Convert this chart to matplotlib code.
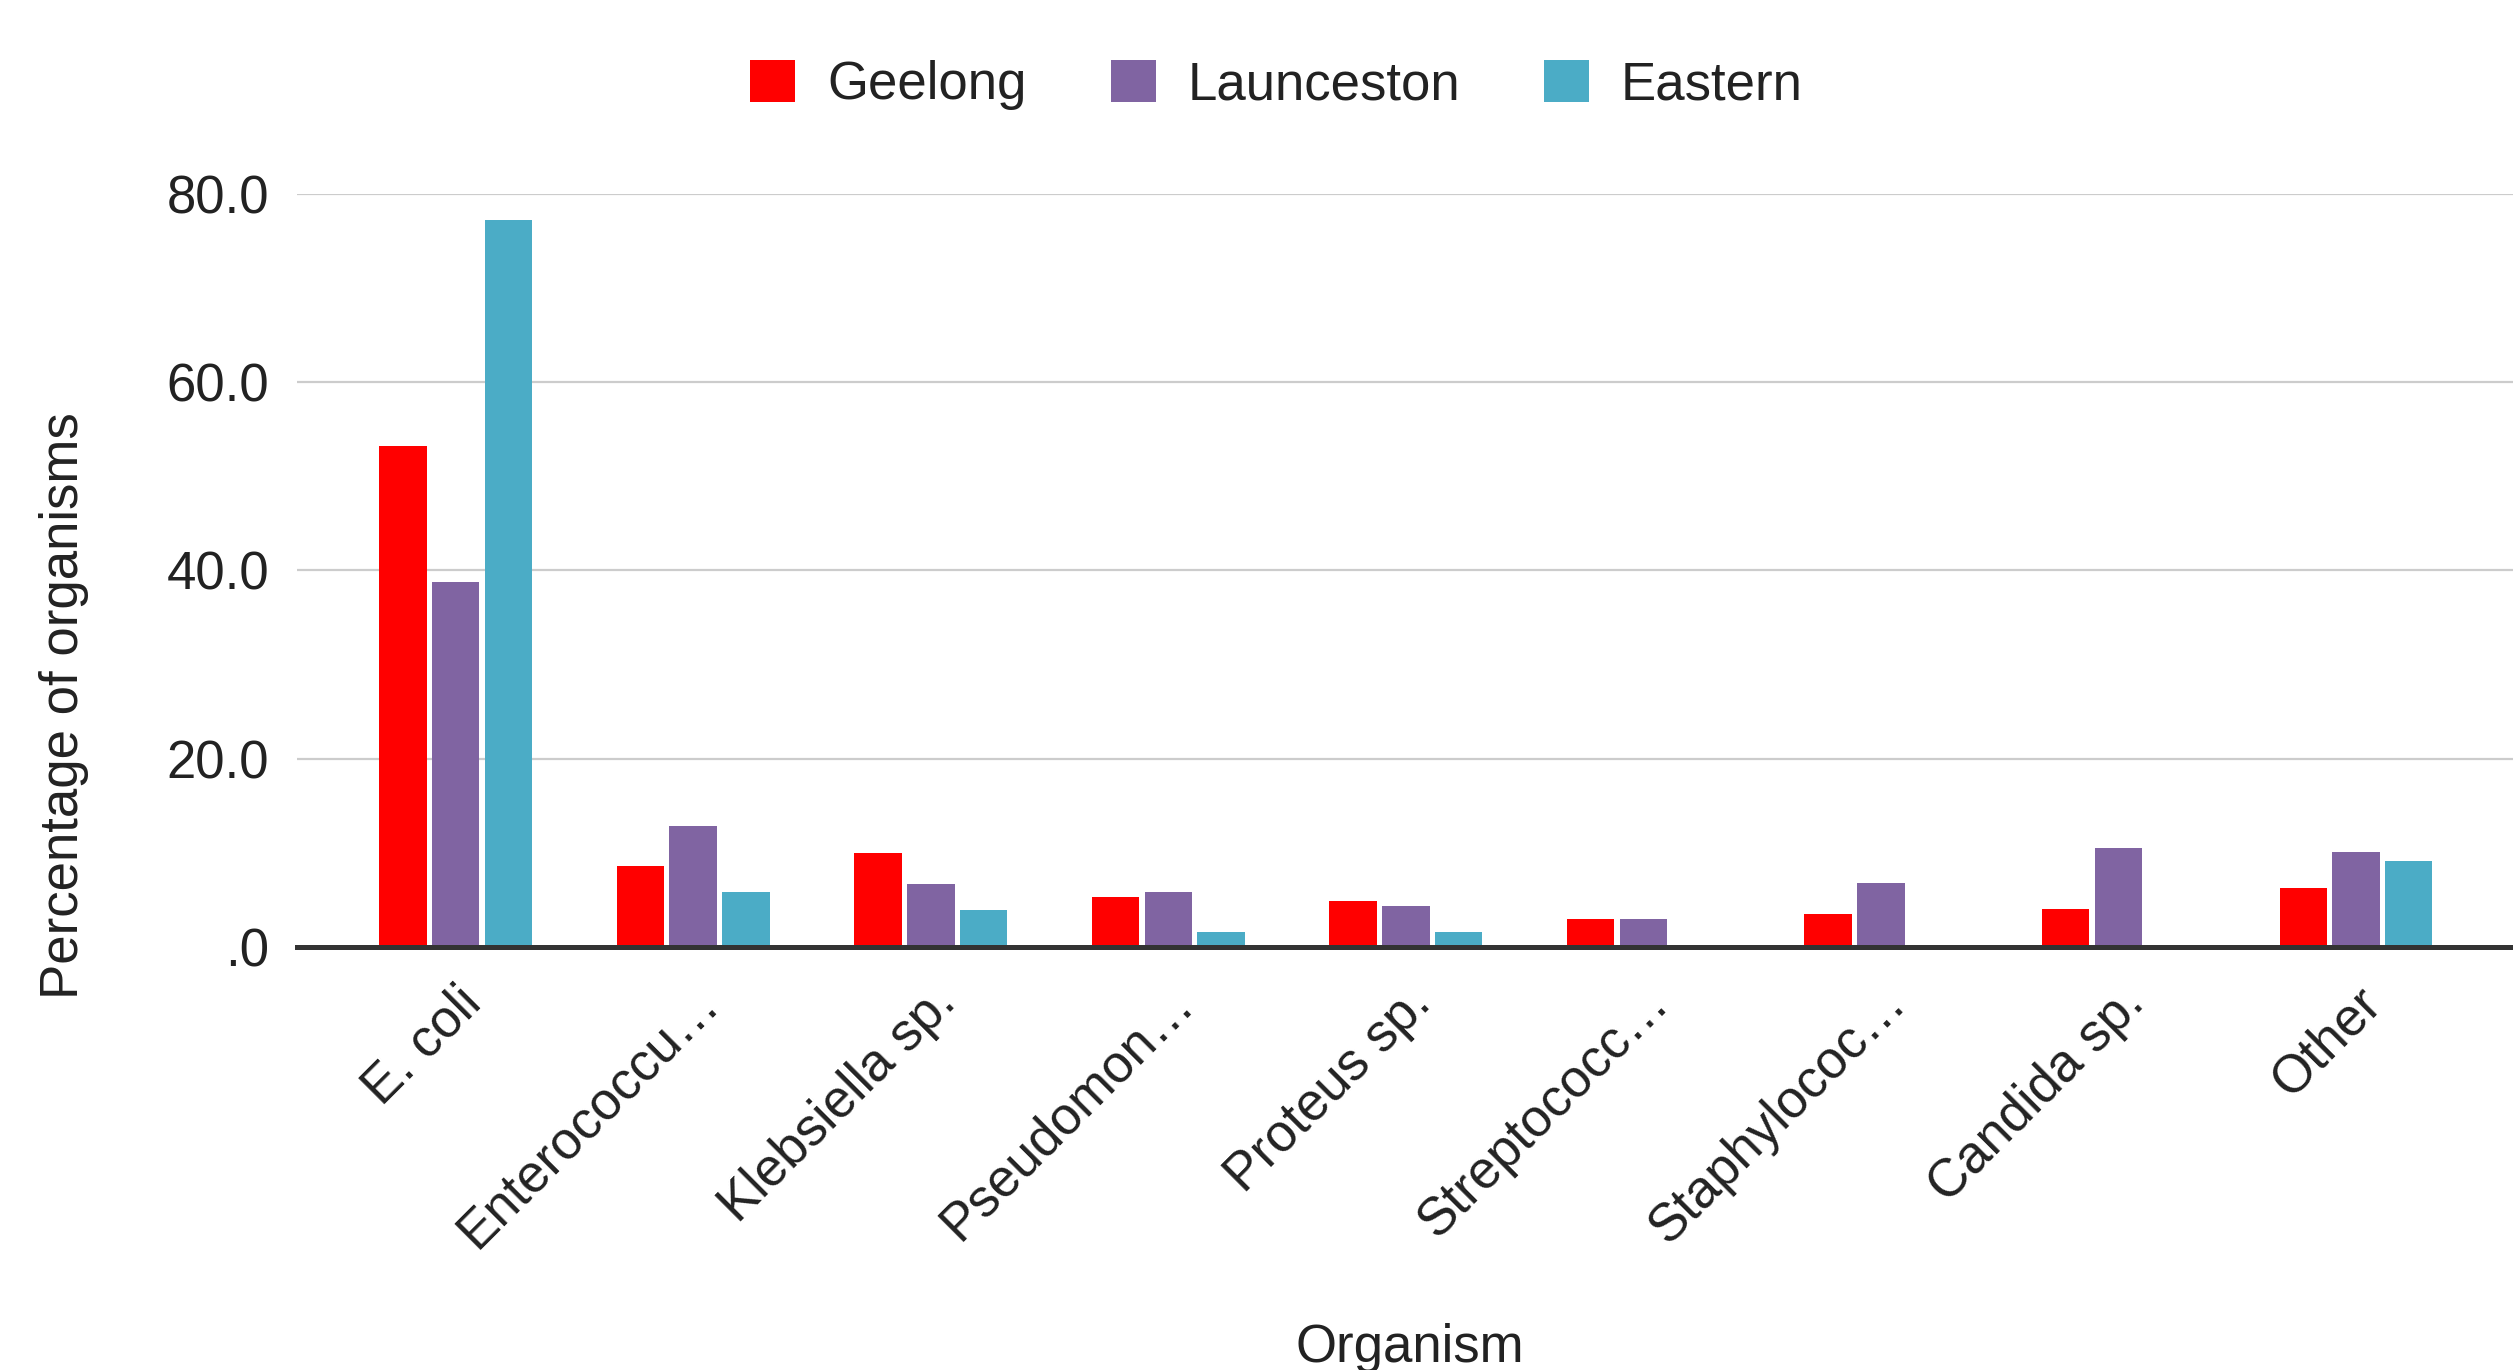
import numpy as np
import matplotlib.pyplot as plt
from matplotlib.ticker import FixedLocator, FuncFormatter
from matplotlib.patches import Patch

organisms = ["E. coli", "Enterococcu\u2026", "Klebsiella sp.", "Pseudomon\u2026",
             "Proteus sp.", "Streptococc\u2026", "Staphylococ\u2026", "Candida sp.", "Other"]
geelong = [53.2, 8.6, 10.0, 5.3, 4.9, 3.0, 3.5, 4.0, 6.3]
launceston = [38.8, 12.9, 6.7, 5.8, 4.4, 3.0, 6.8, 10.5, 10.1]
eastern = [77.2, 5.8, 3.9, 1.6, 1.6, 0.0, 0.0, 0.0, 9.1]
series = ["Geelong", "Launceston", "Eastern"]
colors = ["#ff0000", "#8064a2", "#4bacc6"]
yticks = [0, 20, 40, 60, 80]

plt.rcParams['font.family'] = ['Liberation Sans', 'DejaVu Sans']
text_color = "#222222"

fig = plt.figure(figsize=(12.565, 6.85), dpi=200)
ax = fig.add_axes([0.1182, 0.3088, 0.8818, 0.5496])

x = np.arange(len(organisms))
width = 0.2
offset = 0.222
for i, (vals, c) in enumerate(zip([geelong, launceston, eastern], colors)):
    ax.bar(x + (i - 1) * offset, vals, width=width, color=c, zorder=3)

ax.set_xlim(-0.668, 8.661)
ax.set_ylim(0, 80)
ax.yaxis.set_major_locator(FixedLocator(yticks))
ax.yaxis.set_major_formatter(FuncFormatter(lambda v, p: ".0" if v == 0 else f"{v:.1f}"))
ax.grid(axis='y', color="#cccccc", linewidth=0.8, zorder=0)
ax.set_axisbelow(True)
for s in ["top", "right", "left"]:
    ax.spines[s].set_visible(False)
ax.spines["bottom"].set_color("#333333")
ax.spines["bottom"].set_linewidth(1.8)
ax.spines["bottom"].set_zorder(4)

ax.tick_params(axis='both', length=0, labelsize=19, colors=text_color)
ax.tick_params(axis='y', pad=10)
ax.set_xticks(x)
ax.set_xticklabels(organisms, rotation=45, ha='right', rotation_mode='anchor')
ax.tick_params(axis='x', pad=11)

ax.set_ylabel("Percentage of organisms", fontsize=19, color=text_color)
ax.yaxis.set_label_coords(-0.094, 0.32)
ax.set_xlabel("Organism", fontsize=19, color=text_color)
ax.xaxis.set_label_coords(0.502, -0.50)

handles = [Patch(facecolor=c, label=s) for s, c in zip(series, colors)]
fig.legend(handles=handles, loc='center', bbox_to_anchor=(0.508, 0.938), ncol=3,
           frameon=False, fontsize=19, handlelength=0.85, handleheight=0.85,
           handletextpad=0.6, columnspacing=1.6, labelcolor=text_color)

fig.savefig("out.png", dpi=200, facecolor="white")
